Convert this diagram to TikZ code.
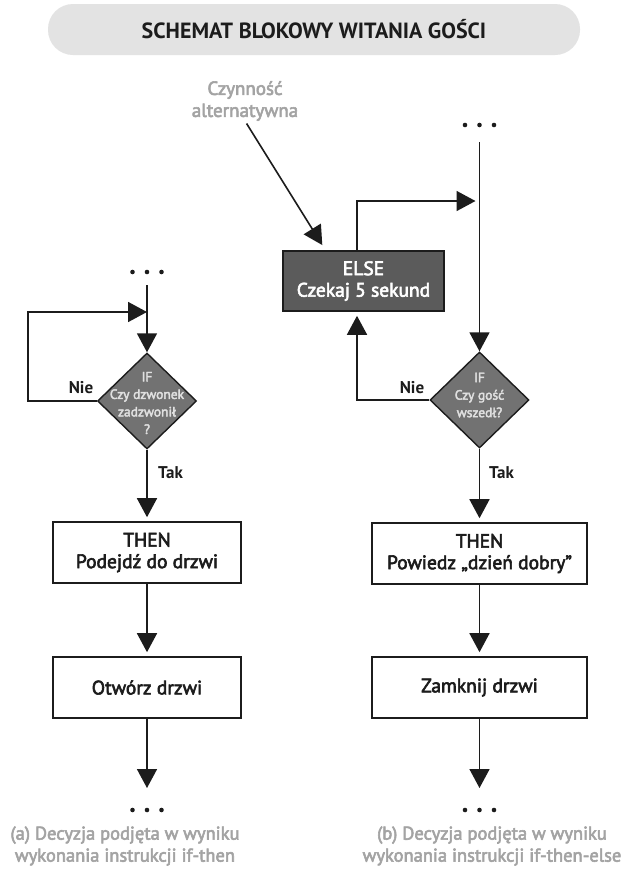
\documentclass[tikz,border=0pt]{standalone}
\usepackage{fontspec}
\setmainfont{PT Sans}
\newfontfamily\plainmed{PT Sans}[FakeBold=3]
\usetikzlibrary{arrows.meta,shapes.geometric}
\definecolor{pillgray}{HTML}{E3E3E3}
\definecolor{darkbox}{HTML}{5B5B5B}
\definecolor{diagray}{HTML}{727272}
\definecolor{ink}{HTML}{1C1C1C}
\definecolor{captiongray}{HTML}{A3A3A3}

\begin{document}
\begin{tikzpicture}[x=1pt, y=-1pt,
	link/.style={draw=ink, line width=1.6pt},
	arr/.style={link, -{Triangle[width=20pt,length=19pt]}},
	stepbox/.style={draw=ink, line width=1.6pt, fill=white, text=ink, align=center, minimum height=61pt, inner sep=0pt, font=\plainmed\fontsize{19.5}{21.5}\selectfont},
	elsebox/.style={stepbox, fill=darkbox, text=white},
	decision/.style={diamond, draw=ink, line width=1.4pt, fill=diagray, minimum width=99pt, minimum height=96pt, inner sep=0pt},
	decisiontext/.style={text=white!88!black, align=center, inner sep=0pt, font=\plainmed\fontsize{13.5}{17.5}\selectfont},
	answer/.style={text=ink, inner sep=0pt, font=\bfseries\fontsize{17}{18}\selectfont},
	caption/.style={text=captiongray, align=center, inner sep=0pt, font=\plainmed\fontsize{18.5}{22}\selectfont}]

	\useasboundingbox[fill=white] (0,0) rectangle (635,871);

	\node[fill=pillgray, rounded corners=25pt, minimum width=532pt, minimum height=51pt, inner sep=0pt, text=ink, font=\bfseries\fontsize{22}{24}\selectfont] (title) at (314,29.5) {SCHEMAT BLOKOWY WITANIA GOŚCI};
	\node[caption, font=\plainmed\fontsize{19}{22}\selectfont] (czyn) at (245,101) {Czynność\\alternatywna};

    \coordinate (topA) at (147,285);
    \coordinate (joinA) at (147,312);
    \coordinate (loopA) at (28,312);
    \coordinate (endA) at (147,788);
    \coordinate (dotsA) at (147,272);
    \coordinate (dotsC) at (147,810);

    \coordinate (topB) at (479.5,142);
    \coordinate (joinB) at (479.5,201);
    \coordinate (loopB) at (357,201);
    \coordinate (nieLoopB) at (357,400);
    \coordinate (aimB) at (326,251);
    \coordinate (endB) at (479.5,788);
    \coordinate (dotsB) at (479.5,125);
    \coordinate (dotsD) at (479.5,810);

	\node[decision, label={[decisiontext, yshift=-2pt]center:{IF\\Czy dzwonek\\zadzwonił\\?}}] (ifA) at (147,401) {};
	\node[stepbox, minimum width=188pt] (thenA) at (147,552.5) {THEN\\Podejdź do drzwi};
	\node[stepbox, minimum width=188pt] (openA) at (147,687.5) {Otwórz drzwi};
	\node[answer] (nieA) at (81,388) {Nie};
	\node[answer, anchor=west] (takA) at (158,473) {Tak};

	\node[elsebox, minimum width=161pt, minimum height=60pt] (elseB) at (363.5,281) {ELSE\\Czekaj 5 sekund};
	\node[decision, label={[decisiontext, yshift=5pt]center:{IF\\Czy gość\\wszedł?}}] (ifB) at (479.5,400) {};
	\node[stepbox, minimum width=215pt] (thenB) at (479.5,553.5) {THEN\\Powiedz „dzień dobry”};
	\node[stepbox, minimum width=215pt] (closeB) at (479.5,687.5) {Zamknij drzwi};
	\node[answer] (nieB) at (412,388) {Nie};
	\node[answer, anchor=west] (takB) at (489,473) {Tak};

	\draw[arr] (topA) -- (ifA);
	\draw[arr] (ifA.west) -| (loopA) -- (joinA);
	\draw[arr, shorten >=4pt] (ifA.south) -- (thenA.north);
	\draw[arr, shorten >=4pt] (thenA) -- (openA);
	\draw[arr] (openA) -- (endA);

	\draw[arr, shorten <=3pt, shorten >=7pt] (czyn.south) -- (aimB);
	\draw[arr] (topB) -- (ifB);
	\draw[arr, shorten >=4pt] (elseB.north -| loopB) -- (loopB) -- (joinB);
	\draw[arr, shorten >=4pt] (ifB.west) -- (nieLoopB) -- (elseB.south -| nieLoopB);
	\draw[arr, shorten >=4pt] (ifB.south) -- (thenB.north);
	\draw[arr, shorten >=4pt] (thenB) -- (closeB);
	\draw[arr] (closeB) -- (endB);

    \foreach \koord in {dotsA, dotsB, dotsC, dotsD}
    	\foreach \dx in {-14.5, 0, 14.5}
    		\fill[ink] ([xshift=\dx pt]\koord) circle[radius=2.3];

	\node[caption] (capA) at (125,846) {(a) Decyzja podjęta w wyniku\\wykonania instrukcji if-then};
	\node[caption] (capB) at (492,846) {(b) Decyzja podjęta w wyniku\\wykonania instrukcji if-then-else};
\end{tikzpicture}
\end{document}
